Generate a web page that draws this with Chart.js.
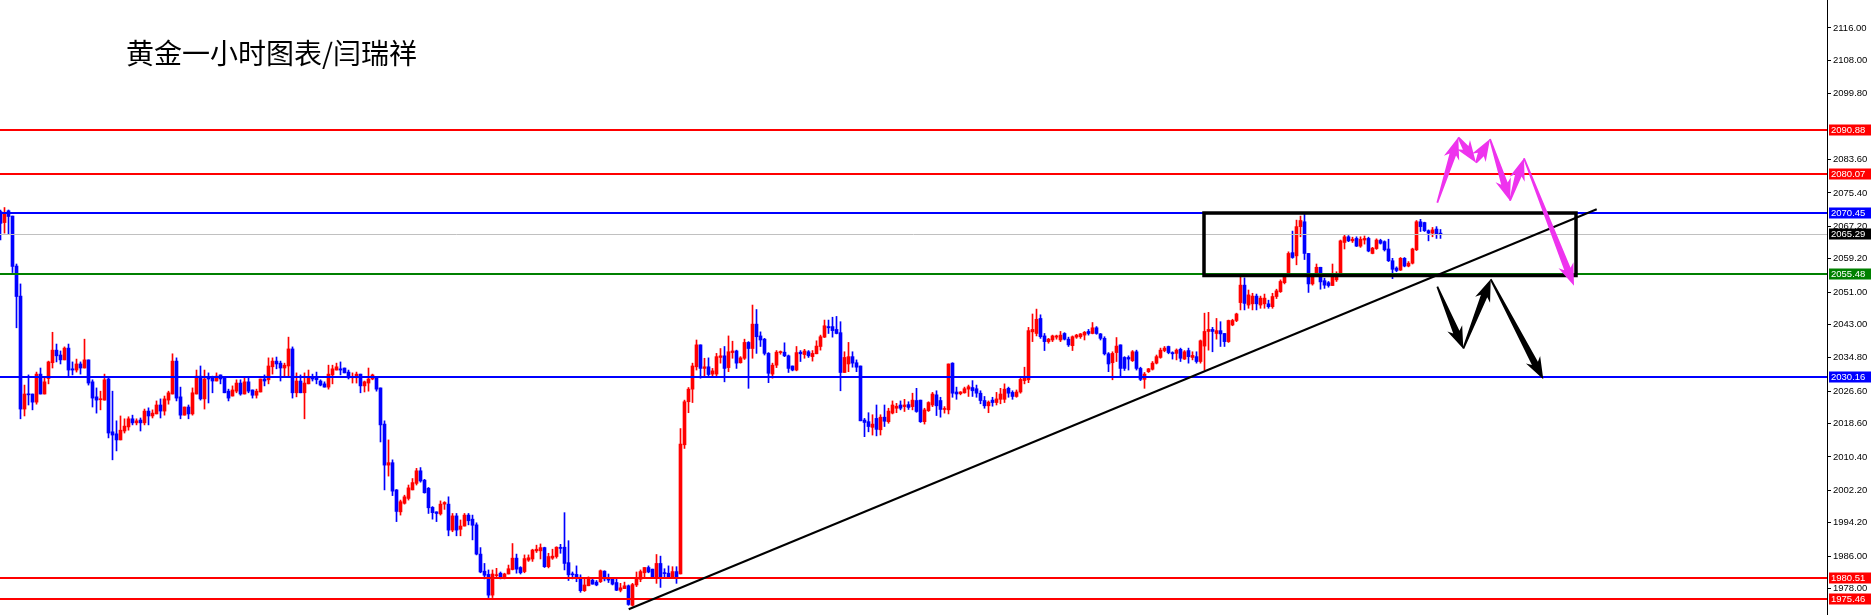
<!DOCTYPE html>
<html><head><meta charset="utf-8">
<script src="https://cdn.jsdelivr.net/npm/chart.js@4.4.0/dist/chart.umd.min.js"></script>
<style>
html,body{margin:0;padding:0;background:#fff;overflow:hidden;}
#wrap{position:relative;width:1871px;height:615px;}
#title{position:absolute;left:126px;top:38px;font-family:"Noto Sans CJK SC";font-size:28px;line-height:28px;color:#000;white-space:nowrap;}
</style></head><body>
<div id="wrap"><canvas id="c" width="1871" height="615"></canvas><div id="title">黄金一小时图表/闫瑞祥</div></div>
<script>
const opens = [
2070.8,2068.1,2071.0,2069.7,2057.4,2050.0,2022.2,2025.9,2025.9,2023.9,
2030.8,2025.9,2029.7,2033.6,2036.7,2035.5,2034.3,2037.2,2032.1,2031.8,
2033.3,2032.3,2034.3,2028.9,2025.2,2024.5,2024.4,2029.6,2016.6,2016.1,
2014.6,2016.8,2017.8,2019.8,2018.8,2019.5,2018.8,2021.7,2020.5,2021.0,
2023.2,2021.7,2024.4,2025.9,2034.0,2025.2,2020.7,2022.7,2021.0,2025.9,
2030.3,2024.7,2029.9,2029.9,2029.1,2030.6,2029.9,2026.6,2025.4,2026.6,
2028.6,2025.9,2028.9,2026.9,2025.6,2026.4,2029.6,2029.4,2032.6,2034.0,
2033.5,2032.3,2032.8,2037.0,2026.2,2029.1,2026.2,2028.4,2030.1,2030.1,
2029.1,2028.4,2027.6,2030.6,2031.8,2032.1,2032.3,2031.3,2029.9,2029.9,
2030.8,2027.9,2028.6,2029.6,2030.1,2027.4,2018.5,2008.4,2009.0,2002.3,
1996.9,1999.0,2000.2,2002.3,2003.9,2007.0,2004.7,2002.7,1998.0,1996.9,
1996.4,1998.8,1998.8,1992.4,1995.9,1992.6,1993.4,1996.1,1995.1,1993.7,
1986.5,1982.3,1981.5,1976.4,1981.2,1981.8,1980.5,1981.6,1982.7,1985.5,
1983.2,1982.2,1985.0,1985.3,1987.3,1987.3,1988.1,1983.4,1985.5,1985.9,
1988.1,1988.2,1984.4,1981.6,1981.5,1980.8,1977.5,1978.7,1980.1,1979.6,
1979.7,1982.3,1980.4,1980.3,1979.5,1977.6,1978.0,1978.7,1973.9,1978.9,
1980.3,1981.9,1983.2,1982.8,1980.9,1984.2,1981.9,1981.8,1980.9,1982.2,
1981.6,2013.4,2024.0,2027.1,2032.6,2038.0,2032.2,2032.6,2030.8,2030.8,
2034.9,2035.3,2032.4,2036.1,2036.5,2033.6,2034.7,2038.6,2037.1,2043.1,
2040.2,2039.4,2035.9,2030.8,2033.0,2036.1,2036.2,2035.3,2032.8,2031.8,
2036.2,2035.6,2036.3,2035.1,2035.8,2037.6,2039.9,2042.5,2042.5,2041.8,
2041.0,2031.2,2033.3,2035.1,2033.6,2032.8,2019.5,2019.1,2017.7,2019.9,
2017.1,2020.2,2019.1,2021.2,2022.4,2023.2,2022.8,2023.3,2022.8,2024.3,
2024.4,2019.1,2021.8,2023.2,2025.7,2024.3,2022.1,2022.0,2033.5,2026.4,
2026.0,2026.2,2027.1,2027.5,2027.2,2026.1,2024.3,2023.0,2024.4,2023.8,
2024.6,2024.6,2027.3,2026.3,2025.3,2026.4,2029.2,2029.4,2041.2,2040.8,
2044.5,2040.2,2038.8,2039.2,2039.9,2039.2,2040.8,2039.4,2037.8,2039.9,
2040.0,2040.4,2041.3,2040.8,2042.2,2040.7,2039.6,2035.8,2033.6,2036.1,
2038.0,2034.9,2034.9,2034.1,2036.3,2032.2,2029.5,2031.4,2032.0,2033.5,
2034.9,2036.6,2037.6,2036.1,2035.9,2036.9,2034.5,2036.6,2034.9,2035.1,
2033.9,2037.7,2041.3,2041.8,2040.8,2041.5,2040.8,2038.8,2042.9,2044.0,
2048.4,2052.7,2047.8,2048.1,2050.0,2047.8,2048.1,2048.1,2047.4,2049.9,
2051.1,2053.3,2055.6,2060.7,2059.9,2067.1,2068.3,2060.5,2053.0,2054.9,
2057.1,2053.8,2053.3,2052.6,2054.0,2055.6,2063.2,2064.6,2063.6,2064.2,
2062.3,2063.8,2064.2,2060.5,2061.7,2063.7,2063.4,2061.6,2058.7,2056.9,
2056.4,2059.3,2057.4,2058.1,2061.4,2068.3,2068.1,2066.1,2065.5,2066.5,2065.5];
const highs = [
2071.2,2071.8,2071.2,2069.7,2057.9,2053.0,2028.1,2030.6,2025.9,2031.3,
2032.3,2029.8,2034.0,2041.1,2038.2,2036.5,2037.5,2038.2,2033.8,2034.5,
2033.8,2039.4,2034.3,2029.4,2027.4,2026.6,2030.8,2030.1,2026.6,2019.3,
2020.5,2019.8,2020.3,2020.7,2019.8,2020.0,2022.2,2022.5,2022.0,2024.2,
2024.7,2025.4,2026.6,2035.8,2034.8,2027.6,2022.7,2023.2,2027.4,2031.8,
2032.8,2031.8,2031.1,2030.3,2031.1,2030.6,2030.1,2027.1,2027.9,2029.4,
2029.4,2029.8,2029.8,2026.9,2027.1,2029.6,2030.6,2034.8,2034.8,2035.0,
2034.0,2033.5,2039.9,2037.5,2031.1,2030.6,2031.1,2031.8,2030.8,2031.3,
2029.4,2028.9,2033.0,2033.0,2033.5,2033.8,2032.3,2031.8,2031.1,2031.3,
2030.8,2029.1,2032.3,2030.8,2030.1,2027.4,2019.3,2014.6,2009.7,2002.4,
1999.8,2001.0,2003.5,2005.1,2007.6,2007.8,2004.9,2002.9,1998.2,1996.9,
1999.6,1999.4,2000.6,1996.5,1996.5,1994.9,1996.5,1996.5,1996.1,1994.2,
1988.1,1984.2,1982.6,1982.6,1983.0,1982.1,1981.8,1983.8,1989.1,1986.5,
1983.4,1986.3,1986.3,1987.7,1988.7,1989.0,1988.2,1986.7,1987.7,1988.3,
1988.9,1996.7,1989.8,1982.1,1983.6,1981.4,1980.3,1980.9,1980.3,1980.0,
1982.6,1982.4,1981.6,1980.3,1980.3,1979.3,1979.6,1978.9,1979.3,1982.1,
1982.6,1983.2,1983.6,1982.8,1986.4,1986.0,1982.9,1983.6,1983.4,1983.4,
2017.4,2024.4,2027.5,2033.5,2039.2,2038.0,2034.7,2034.8,2032.2,2035.9,
2037.1,2037.6,2040.2,2038.9,2036.7,2035.1,2039.4,2038.8,2047.8,2046.7,
2041.2,2039.6,2036.1,2033.5,2036.6,2036.5,2038.5,2035.5,2032.8,2037.6,
2036.6,2036.9,2036.6,2036.6,2039.0,2040.4,2044.1,2044.1,2044.8,2045.0,
2043.7,2036.3,2038.6,2036.3,2034.3,2032.8,2019.9,2021.3,2020.8,2023.2,
2020.8,2023.2,2022.4,2024.2,2023.6,2024.2,2024.6,2024.0,2026.1,2027.3,
2024.4,2022.4,2024.0,2026.3,2026.7,2025.1,2022.8,2033.3,2033.6,2027.6,
2026.5,2027.6,2028.1,2029.2,2028.1,2026.7,2025.3,2024.2,2025.1,2026.3,
2027.3,2028.4,2027.6,2026.7,2026.9,2030.2,2032.5,2042.3,2045.6,2046.8,
2045.4,2040.8,2039.6,2040.4,2040.4,2041.3,2041.0,2039.9,2040.2,2040.6,
2040.8,2041.3,2041.8,2043.5,2042.5,2040.8,2040.0,2036.1,2036.3,2039.8,
2038.0,2035.1,2035.3,2036.6,2036.7,2032.5,2031.2,2032.2,2033.9,2035.5,
2037.2,2037.6,2037.7,2036.3,2037.0,2037.2,2036.6,2037.2,2036.3,2036.3,
2039.2,2045.8,2046.0,2042.3,2044.5,2043.7,2040.8,2044.1,2044.3,2045.8,
2054.9,2054.5,2051.5,2050.7,2050.5,2050.0,2050.5,2049.0,2050.7,2051.7,
2054.0,2055.6,2060.9,2066.0,2068.7,2069.7,2070.4,2060.5,2055.2,2057.9,
2057.1,2054.4,2053.6,2057.9,2056.0,2063.8,2065.0,2064.9,2064.5,2064.6,
2064.6,2064.8,2064.5,2062.0,2064.1,2064.0,2063.6,2064.0,2059.3,2057.2,
2059.5,2059.5,2058.5,2061.8,2068.6,2068.9,2068.2,2066.3,2066.9,2067.1,2066.4];
const lows = [
2063.8,2065.5,2065.3,2055.8,2042.2,2019.8,2020.5,2023.2,2022.0,2023.4,
2025.9,2025.9,2028.4,2032.3,2033.8,2033.3,2034.3,2030.3,2030.6,2031.3,
2030.8,2032.3,2028.1,2022.7,2021.2,2022.0,2024.4,2015.1,2009.7,2011.9,
2014.6,2016.3,2017.0,2018.3,2018.3,2016.8,2018.3,2018.3,2020.0,2021.0,
2020.0,2020.7,2023.4,2025.9,2024.2,2019.8,2020.7,2019.8,2020.7,2025.9,
2024.4,2022.2,2023.7,2026.2,2029.1,2028.4,2026.2,2024.2,2025.4,2026.2,
2025.6,2025.9,2026.2,2024.9,2024.9,2026.4,2027.9,2028.4,2030.8,2032.1,
2029.1,2030.3,2030.3,2024.9,2025.2,2026.2,2019.8,2028.4,2029.1,2028.4,
2027.9,2027.6,2027.1,2028.4,2031.8,2030.6,2031.1,2029.6,2028.6,2028.6,
2026.2,2026.4,2026.6,2029.4,2026.6,2014.1,2002.3,2005.7,2000.9,1994.5,
1996.1,1998.8,1999.8,2002.3,2003.5,2004.2,2001.5,1996.5,1995.1,1994.5,
1996.1,1997.5,1991.0,1992.0,1991.0,1991.0,1993.4,1993.7,1990.0,1986.3,
1981.9,1980.4,1975.8,1975.8,1980.7,1980.4,1980.4,1981.6,1982.6,1981.8,
1981.6,1981.9,1984.7,1984.7,1986.9,1985.3,1983.2,1983.1,1985.2,1985.5,
1986.7,1982.6,1980.0,1980.4,1979.7,1977.1,1977.3,1978.7,1979.1,1978.7,
1979.5,1979.9,1979.5,1978.9,1977.5,1977.2,1978.0,1973.9,1973.7,1978.5,
1979.7,1980.9,1981.9,1980.7,1979.3,1978.3,1980.5,1980.8,1980.9,1979.3,
1981.6,2012.5,2021.3,2023.8,2031.8,2029.8,2030.2,2030.3,2030.3,2030.3,
2033.5,2028.9,2031.4,2034.7,2032.2,2033.5,2034.4,2027.3,2034.7,2035.9,
2037.6,2035.5,2028.7,2029.8,2032.4,2035.7,2035.1,2031.2,2031.6,2031.6,
2033.9,2034.7,2034.9,2034.0,2035.8,2036.7,2039.8,2040.8,2039.9,2040.7,
2026.7,2031.2,2031.4,2032.5,2031.4,2019.3,2015.4,2016.6,2015.8,2015.6,
2015.8,2017.9,2018.7,2021.0,2021.3,2022.0,2021.6,2022.1,2022.0,2021.4,
2018.9,2018.5,2021.6,2022.8,2020.6,2020.2,2021.2,2021.0,2025.1,2024.6,
2025.7,2026.1,2025.3,2025.3,2025.1,2023.5,2022.4,2021.3,2022.9,2023.2,
2023.5,2023.8,2025.1,2024.6,2025.1,2026.1,2028.4,2028.7,2038.8,2040.2,
2039.6,2036.6,2038.4,2038.8,2039.4,2038.8,2039.2,2037.6,2036.6,2039.6,
2039.6,2039.2,2040.4,2040.7,2040.6,2039.2,2035.5,2031.4,2029.4,2033.9,
2030.2,2031.7,2031.8,2033.9,2031.8,2029.2,2027.3,2031.2,2031.8,2033.3,
2034.7,2036.3,2035.8,2034.5,2034.3,2033.9,2034.4,2033.5,2034.3,2033.5,
2033.5,2031.8,2036.7,2036.3,2039.4,2037.6,2037.6,2038.6,2042.7,2043.7,
2046.6,2046.6,2047.0,2046.6,2046.6,2047.0,2047.0,2047.0,2047.0,2049.4,
2050.9,2053.0,2055.4,2059.3,2057.7,2064.6,2059.0,2050.9,2052.7,2054.8,
2051.7,2051.9,2052.2,2052.6,2053.6,2055.6,2061.6,2063.4,2063.2,2062.2,
2062.0,2062.8,2060.9,2060.4,2061.5,2062.8,2061.1,2058.5,2054.3,2056.0,
2056.3,2057.2,2057.2,2057.9,2061.2,2065.9,2065.9,2063.6,2064.6,2064.2,2064.2];
const closes = [
2067.9,2070.5,2069.6,2057.3,2049.9,2022.2,2025.9,2025.7,2023.9,2030.8,
2025.9,2028.9,2033.8,2036.7,2035.3,2034.3,2037.2,2031.8,2031.8,2033.3,
2032.3,2034.3,2028.6,2024.9,2024.4,2024.7,2029.4,2016.3,2015.8,2014.6,
2017.0,2018.0,2019.8,2018.8,2019.3,2018.8,2021.7,2020.5,2021.2,2023.2,
2021.7,2024.7,2026.2,2034.0,2024.9,2020.7,2022.7,2021.0,2026.2,2030.3,
2024.7,2029.6,2029.6,2029.1,2030.3,2029.6,2026.2,2024.9,2026.9,2028.6,
2025.9,2028.9,2026.6,2025.6,2026.6,2029.6,2029.1,2032.8,2034.0,2033.3,
2032.3,2033.0,2037.0,2026.2,2029.1,2026.2,2028.6,2030.1,2029.6,2029.4,
2028.1,2027.6,2030.8,2032.1,2032.6,2031.8,2031.1,2029.9,2030.1,2030.8,
2027.9,2028.9,2029.6,2030.6,2027.1,2018.3,2008.4,2009.0,2002.0,1997.0,
1999.4,2000.6,2002.8,2004.1,2007.0,2004.5,2001.6,1997.9,1996.7,1996.5,
1998.8,1999.2,1992.4,1995.9,1992.4,1993.4,1996.1,1994.7,1993.6,1986.5,
1982.1,1981.3,1976.4,1981.6,1981.4,1980.8,1981.6,1982.9,1985.5,1982.8,
1981.9,1985.4,1985.6,1987.5,1987.7,1988.1,1983.4,1985.9,1986.0,1988.2,
1987.9,1984.2,1981.4,1981.4,1980.7,1977.5,1978.9,1980.3,1979.1,1978.9,
1982.4,1980.4,1980.1,1979.1,1977.6,1978.2,1978.7,1974.1,1979.0,1980.5,
1982.2,1983.2,1982.1,1980.9,1984.2,1980.9,1981.7,1980.9,1982.2,1980.9,
2013.6,2024.0,2027.1,2032.8,2038.0,2032.2,2032.6,2030.7,2031.6,2035.1,
2035.3,2032.2,2036.3,2036.5,2033.5,2034.8,2038.6,2037.1,2043.1,2040.0,
2039.2,2035.9,2031.0,2033.0,2036.2,2036.2,2035.3,2032.2,2031.8,2036.1,
2035.8,2036.5,2035.3,2035.9,2037.7,2040.0,2042.7,2042.2,2041.5,2040.8,
2031.2,2034.9,2035.1,2033.5,2032.5,2019.3,2018.9,2017.9,2018.5,2017.2,
2020.2,2019.2,2021.7,2023.2,2022.9,2022.4,2023.2,2022.6,2024.4,2021.6,
2019.1,2022.0,2023.8,2025.9,2023.0,2022.1,2022.3,2033.3,2026.1,2025.9,
2026.4,2027.2,2027.7,2026.7,2026.1,2024.3,2023.0,2023.9,2023.8,2024.7,
2025.9,2027.1,2026.1,2025.3,2026.4,2029.5,2030.2,2041.5,2041.8,2044.3,
2040.0,2038.8,2039.4,2040.2,2040.2,2040.4,2039.4,2038.0,2040.0,2040.4,
2040.7,2041.1,2040.8,2042.2,2040.8,2039.6,2035.8,2033.3,2035.9,2037.7,
2032.2,2032.2,2034.5,2036.3,2032.2,2029.5,2030.8,2032.1,2033.5,2035.1,
2036.7,2037.2,2036.1,2035.8,2036.7,2034.7,2036.3,2035.1,2035.4,2033.9,
2039.0,2041.3,2041.8,2041.3,2041.5,2040.7,2038.8,2044.0,2044.0,2045.6,
2052.7,2048.2,2050.3,2050.0,2048.1,2049.5,2049.5,2047.4,2049.9,2051.3,
2053.6,2055.2,2060.5,2059.5,2067.1,2068.6,2060.5,2053.0,2054.9,2057.1,
2053.5,2052.7,2052.6,2054.8,2055.4,2063.6,2064.6,2063.6,2064.0,2062.3,
2064.0,2064.2,2061.1,2061.8,2063.8,2063.0,2061.4,2058.7,2056.6,2056.3,
2059.3,2057.4,2058.1,2061.6,2068.3,2067.1,2066.1,2065.5,2066.3,2065.2,2065.2];

const tickValues = [2116.00,2108.00,2099.80,2083.60,2075.40,2067.20,2059.20,2051.00,2043.00,2034.80,2026.60,2018.60,2010.40,2002.20,1994.20,1986.00,1978.00];
const levelValues = [2090.88,2080.07,2070.45,2065.29,2055.48,2030.16,1980.51,1975.46];
const levelColors = ['#ff0000','#ff0000','#0000ff','#c0c0c0','#008000','#0000ff','#ff0000','#ff0000'];
const levelLabelBg = ['#ff0000','#ff0000','#0000ff','#000000','#008000','#0000ff','#ff0000','#ff0000'];
const levelWidths = [2,2,2,1,2,2,2,2];
const trendLine = [[157.05,1972.92],[399.05,2071.37]];
const boxRange = [[300.875,2070.45],[393.875,2055.07]];
const magentaPath = [[359.2,2072.99],[364.45,2089.09],[368.875,2082.84],[372.375,2088.67],[377.375,2073.48],[380.875,2083.92],[393.375,2052.56]];
const blackPath = [[359.2,2052.32],[365.7,2037.06],[372.55,2054.14],[385.7,2029.53]];

const idx = opens.map((_, i) => i);
const barColors = idx.map(i => closes[i] >= opens[i] ? '#ff0000' : '#0000ff');
const bodies = idx.map(i => ({x: i, y: [opens[i], closes[i]]}));
const wicks = idx.map(i => ({x: i, y: [lows[i], highs[i]]}));

function arrowSeg(ctx, ax, ay, bx, by, color) {
  const dx = bx - ax, dy = by - ay, len = Math.hypot(dx, dy);
  const ux = dx / len, uy = dy / len, nx = -uy, ny = ux;
  const headLen = 18, headW = 8, w0 = 0.9, w1 = 3.4;
  const hx = bx - ux * headLen, hy = by - uy * headLen;
  const bbx = hx - ux * 4, bby = hy - uy * 4;
  ctx.fillStyle = color;
  ctx.beginPath();
  ctx.moveTo(ax + nx * w0, ay + ny * w0);
  ctx.lineTo(hx + nx * w1, hy + ny * w1);
  ctx.lineTo(bbx + nx * headW, bby + ny * headW);
  ctx.lineTo(bx, by);
  ctx.lineTo(bbx - nx * headW, bby - ny * headW);
  ctx.lineTo(hx - nx * w1, hy - ny * w1);
  ctx.lineTo(ax - nx * w0, ay - ny * w0);
  ctx.closePath();
  ctx.fill();
}
function drawPath(ctx, xs, ys, path, color) {
  for (let i = 0; i < path.length - 1; i++) {
    arrowSeg(ctx, xs.getPixelForValue(path[i][0]), ys.getPixelForValue(path[i][1]),
                  xs.getPixelForValue(path[i+1][0]), ys.getPixelForValue(path[i+1][1]), color);
  }
}

const overlay = {
  id: 'overlay',
  afterDatasetsDraw(chart) {
    const {ctx, chartArea: a, scales: {x, y}} = chart;
    ctx.save();
    ctx.beginPath(); ctx.rect(a.left, a.top, a.right - a.left, a.bottom - a.top); ctx.clip();
    levelValues.forEach((v, i) => {
      const w = levelWidths[i];
      let py = Math.round(y.getPixelForValue(v)); if (w % 2) py += 0.5;
      ctx.strokeStyle = levelColors[i]; ctx.lineWidth = w;
      ctx.beginPath(); ctx.moveTo(a.left, py); ctx.lineTo(a.right, py); ctx.stroke();
    });
    ctx.strokeStyle = '#000'; ctx.lineWidth = 2;
    ctx.beginPath();
    ctx.moveTo(x.getPixelForValue(trendLine[0][0]), y.getPixelForValue(trendLine[0][1]));
    ctx.lineTo(x.getPixelForValue(trendLine[1][0]), y.getPixelForValue(trendLine[1][1]));
    ctx.stroke();
    const bx0 = x.getPixelForValue(boxRange[0][0]), by0 = y.getPixelForValue(boxRange[0][1]);
    const bx1 = x.getPixelForValue(boxRange[1][0]), by1 = y.getPixelForValue(boxRange[1][1]);
    ctx.lineWidth = 3.5; ctx.strokeStyle = '#000';
    ctx.strokeRect(bx0, by0, bx1 - bx0, by1 - by0);
    drawPath(ctx, x, y, magentaPath, '#ee33ee');
    drawPath(ctx, x, y, blackPath, '#000000');
    ctx.restore();
  },
  afterDraw(chart) {
    const {ctx, chartArea: a, scales: {y}} = chart;
    ctx.save();
    ctx.font = '9.5px "Liberation Sans"';
    ctx.textBaseline = 'middle'; ctx.textAlign = 'left';
    levelValues.forEach((v, i) => {
      const py = Math.round(y.getPixelForValue(v));
      ctx.fillStyle = levelLabelBg[i];
      ctx.fillRect(a.right + 2, py - 5.5, 42, 11);
      ctx.fillStyle = '#ffffff';
      ctx.fillText(v.toFixed(2), a.right + 4, py + 0.5);
    });
    ctx.restore();
  }
};

new Chart(document.getElementById('c'), {
  type: 'bar',
  data: {
    datasets: [
      {label: 'body', data: bodies, backgroundColor: barColors, barThickness: 3, minBarLength: 1, grouped: false, order: 0, borderWidth: 0, borderSkipped: false},
      {label: 'wick', data: wicks, backgroundColor: barColors, barThickness: 1, grouped: false, order: 1, borderWidth: 0, borderSkipped: false}
    ]
  },
  options: {
    responsive: false, animation: false, devicePixelRatio: 1,
    layout: {padding: 0},
    events: [],
    plugins: {legend: {display: false}, tooltip: {enabled: false}},
    scales: {
      x: {type: 'linear', min: -0.125, max: 456.625, display: false, offset: false, grid: {offset: false}},
      y: {
        position: 'right', min: 1971.51, max: 2122.88,
        afterBuildTicks: s => { s.ticks = tickValues.map(v => ({value: v})); },
        afterFit: s => { s.width = 44; s.paddingTop = 0; s.paddingBottom = 0; },
        ticks: {autoSkip: false, padding: 2, color: '#000', font: {family: 'Liberation Sans', size: 9.5}, callback: v => Number(v).toFixed(2)},
        grid: {drawOnChartArea: false, drawTicks: true, tickLength: 4, color: '#000', lineWidth: 1},
        border: {display: true, color: '#000', width: 1}
      }
    }
  },
  plugins: [overlay]
});
</script>
</body></html>
